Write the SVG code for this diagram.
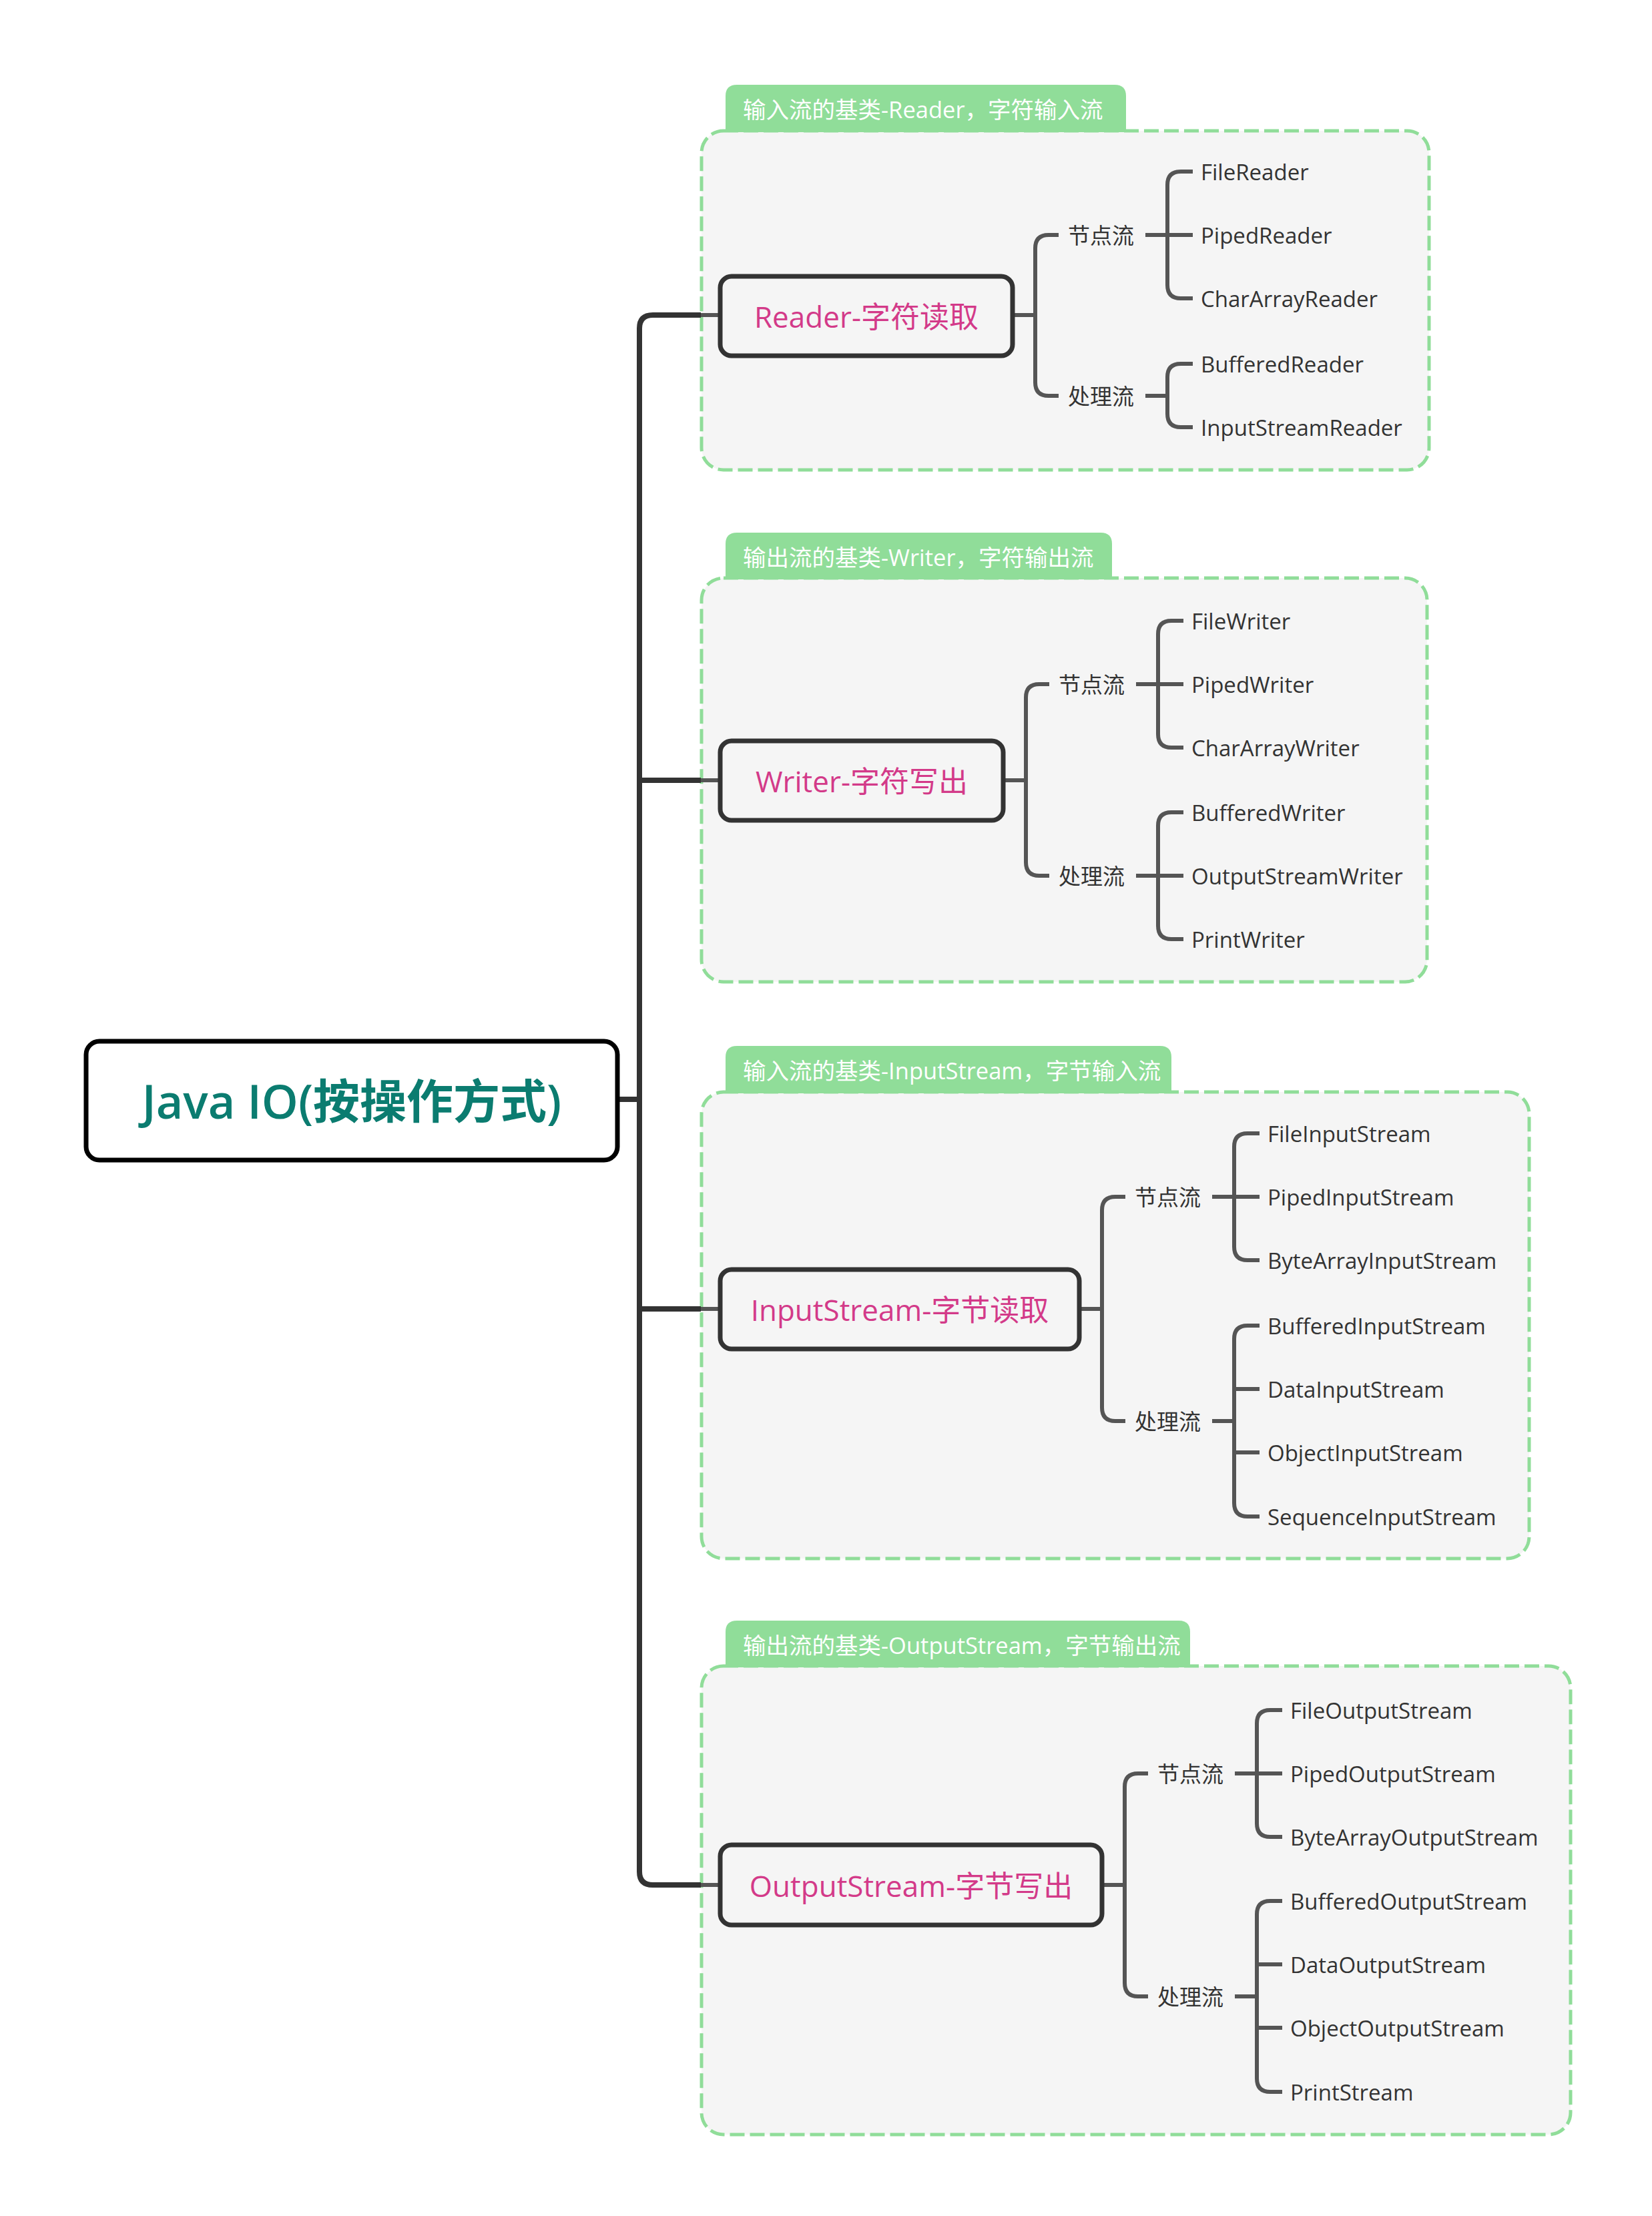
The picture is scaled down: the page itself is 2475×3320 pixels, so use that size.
<svg xmlns="http://www.w3.org/2000/svg" width="2475" height="3320" viewBox="0 0 2475 3320">
  <style>
    .group-box { fill: #F5F5F5; stroke: #90DD99; stroke-width: 5; stroke-dasharray: 22 8; }
    .tab { fill: #90DD99; }
    .tab-text { fill: #FFFFFF; font-family: "Open Sans", "Noto Sans CJK SC", sans-serif; font-size: 34.5px; dominant-baseline: central; }
    .root-box { fill: #FFFFFF; stroke: #000000; stroke-width: 7; }
    .root-text { fill: #0B7C70; font-family: "Open Sans", "Noto Sans CJK SC", sans-serif; font-size: 70px; font-weight: 600; dominant-baseline: central; text-anchor: middle; }
    .main-box { fill: #F5F5F5; stroke: #333333; stroke-width: 7; }
    .main-text { fill: #D33A89; font-family: "Open Sans", "Noto Sans CJK SC", sans-serif; font-size: 44px; dominant-baseline: central; text-anchor: middle; }
    .sub-text { fill: #333333; font-family: "Open Sans", "Noto Sans CJK SC", sans-serif; font-size: 33px; dominant-baseline: central; }
    .leaf-text { fill: #333333; font-family: "Open Sans", "Noto Sans CJK SC", sans-serif; font-size: 33px; dominant-baseline: central; }
    .trunk { fill: none; stroke: #333333; stroke-width: 8; stroke-linecap: butt; }
    .link { fill: none; stroke: #555555; stroke-width: 6; stroke-linecap: butt; }
  </style>
  <rect width="2475" height="3320" fill="#FFFFFF"/>

  <!-- group frames with their title tabs -->
  <g id="frame-reader">
    <rect class="group-box" x="1051" y="196" width="1090" height="508" rx="33"/>
    <path class="tab" d="M1087,198 V144 Q1087,127 1104,127 H1670 Q1687,127 1687,144 V198 Z"/>
    <text class="tab-text" x="1113" y="163">输入流的基类-Reader，字符输入流</text>
  </g>
  <g id="frame-writer">
    <rect class="group-box" x="1051" y="866" width="1087" height="605" rx="33"/>
    <path class="tab" d="M1087,868 V815 Q1087,798 1104,798 H1649 Q1666,798 1666,815 V868 Z"/>
    <text class="tab-text" x="1113" y="834">输出流的基类-Writer，字符输出流</text>
  </g>
  <g id="frame-inputstream">
    <rect class="group-box" x="1051" y="1636" width="1240" height="699" rx="33"/>
    <path class="tab" d="M1087,1638 V1584 Q1087,1567 1104,1567 H1738 Q1755,1567 1755,1584 V1638 Z"/>
    <text class="tab-text" x="1113" y="1603">输入流的基类-InputStream，字节输入流</text>
  </g>
  <g id="frame-outputstream">
    <rect class="group-box" x="1051" y="2496" width="1302" height="702" rx="33"/>
    <path class="tab" d="M1087,2498 V2445 Q1087,2428 1104,2428 H1766 Q1783,2428 1783,2445 V2498 Z"/>
    <text class="tab-text" x="1113" y="2464">输出流的基类-OutputStream，字节输出流</text>
  </g>

  <!-- connectors -->
  <g id="connectors">
    <!-- trunk from the root to the four main topics -->
    <path class="trunk" d="M925,1647 H958"/>
    <path class="trunk" d="M1050,472 H978 Q958,472 958,492 V2804 Q958,2824 978,2824 H1050"/>
    <path class="trunk" d="M958,1169 H1050"/>
    <path class="trunk" d="M958,1961 H1050"/>
    <path class="link" d="M1050,472 H1079 M1050,1169 H1079 M1050,1961 H1079 M1050,2824 H1079"/>

    <!-- Reader -->
    <path class="link" d="M1517,472 H1551"/>
    <path class="link" d="M1586,352 H1571 Q1551,352 1551,372 V573 Q1551,593 1571,593 H1586"/>
    <path class="link" d="M1716,352 H1787"/>
    <path class="link" d="M1787,257 H1769 Q1749,257 1749,277 V427 Q1749,447 1769,447 H1787"/>
    <path class="link" d="M1716,593 H1749"/>
    <path class="link" d="M1787,545 H1769 Q1749,545 1749,565 V620 Q1749,640 1769,640 H1787"/>

    <!-- Writer -->
    <path class="link" d="M1503,1169 H1537"/>
    <path class="link" d="M1572,1025 H1557 Q1537,1025 1537,1045 V1292 Q1537,1312 1557,1312 H1572"/>
    <path class="link" d="M1702,1025 H1773"/>
    <path class="link" d="M1773,930 H1755 Q1735,930 1735,950 V1100 Q1735,1120 1755,1120 H1773"/>
    <path class="link" d="M1702,1312 H1773"/>
    <path class="link" d="M1773,1217 H1755 Q1735,1217 1735,1237 V1387 Q1735,1407 1755,1407 H1773"/>

    <!-- InputStream -->
    <path class="link" d="M1617,1961 H1651"/>
    <path class="link" d="M1686,1793 H1671 Q1651,1793 1651,1813 V2109 Q1651,2129 1671,2129 H1686"/>
    <path class="link" d="M1816,1793 H1887"/>
    <path class="link" d="M1887,1698 H1869 Q1849,1698 1849,1718 V1868 Q1849,1888 1869,1888 H1887"/>
    <path class="link" d="M1816,2129 H1849"/>
    <path class="link" d="M1887,1986 H1869 Q1849,1986 1849,2006 V2252 Q1849,2272 1869,2272 H1887"/>
    <path class="link" d="M1849,2081 H1887 M1849,2176 H1887"/>

    <!-- OutputStream -->
    <path class="link" d="M1651,2824 H1685"/>
    <path class="link" d="M1720,2657 H1705 Q1685,2657 1685,2677 V2971 Q1685,2991 1705,2991 H1720"/>
    <path class="link" d="M1850,2657 H1921"/>
    <path class="link" d="M1921,2562 H1903 Q1883,2562 1883,2582 V2732 Q1883,2752 1903,2752 H1921"/>
    <path class="link" d="M1850,2991 H1883"/>
    <path class="link" d="M1921,2848 H1903 Q1883,2848 1883,2868 V3114 Q1883,3134 1903,3134 H1921"/>
    <path class="link" d="M1883,2943 H1921 M1883,3038 H1921"/>
  </g>

  <!-- root -->
  <g id="node-root">
    <rect class="root-box" x="129" y="1560" width="796" height="178" rx="20"/>
    <text class="root-text" x="527" y="1649">Java IO(按操作方式)</text>
  </g>

  <!-- main topics -->
  <g id="node-reader">
    <rect class="main-box" x="1079" y="414" width="438" height="119" rx="17"/>
    <text class="main-text" x="1298" y="474">Reader-字符读取</text>
  </g>
  <g id="node-writer">
    <rect class="main-box" x="1079" y="1110" width="424" height="119" rx="17"/>
    <text class="main-text" x="1291" y="1170">Writer-字符写出</text>
  </g>
  <g id="node-inputstream">
    <rect class="main-box" x="1079" y="1902" width="538" height="119" rx="17"/>
    <text class="main-text" x="1348" y="1962">InputStream-字节读取</text>
  </g>
  <g id="node-outputstream">
    <rect class="main-box" x="1079" y="2764" width="572" height="120" rx="17"/>
    <text class="main-text" x="1365" y="2825">OutputStream-字节写出</text>
  </g>

  <!-- Reader subtopics -->
  <g id="node-reader-node"><text class="sub-text" x="1600" y="352">节点流</text></g>
  <g id="node-reader-proc"><text class="sub-text" x="1600" y="593">处理流</text></g>
  <g id="node-filereader"><text class="leaf-text" x="1799" y="257">FileReader</text></g>
  <g id="node-pipedreader"><text class="leaf-text" x="1799" y="352">PipedReader</text></g>
  <g id="node-chararrayreader"><text class="leaf-text" x="1799" y="447">CharArrayReader</text></g>
  <g id="node-bufferedreader"><text class="leaf-text" x="1799" y="545">BufferedReader</text></g>
  <g id="node-inputstreamreader"><text class="leaf-text" x="1799" y="640">InputStreamReader</text></g>

  <!-- Writer subtopics -->
  <g id="node-writer-node"><text class="sub-text" x="1586" y="1025">节点流</text></g>
  <g id="node-writer-proc"><text class="sub-text" x="1586" y="1312">处理流</text></g>
  <g id="node-filewriter"><text class="leaf-text" x="1785" y="930">FileWriter</text></g>
  <g id="node-pipedwriter"><text class="leaf-text" x="1785" y="1025">PipedWriter</text></g>
  <g id="node-chararraywriter"><text class="leaf-text" x="1785" y="1120">CharArrayWriter</text></g>
  <g id="node-bufferedwriter"><text class="leaf-text" x="1785" y="1217">BufferedWriter</text></g>
  <g id="node-outputstreamwriter"><text class="leaf-text" x="1785" y="1312">OutputStreamWriter</text></g>
  <g id="node-printwriter"><text class="leaf-text" x="1785" y="1407">PrintWriter</text></g>

  <!-- InputStream subtopics -->
  <g id="node-input-node"><text class="sub-text" x="1700" y="1793">节点流</text></g>
  <g id="node-input-proc"><text class="sub-text" x="1700" y="2129">处理流</text></g>
  <g id="node-fileinputstream"><text class="leaf-text" x="1899" y="1698">FileInputStream</text></g>
  <g id="node-pipedinputstream"><text class="leaf-text" x="1899" y="1793">PipedInputStream</text></g>
  <g id="node-bytearrayinputstream"><text class="leaf-text" x="1899" y="1888">ByteArrayInputStream</text></g>
  <g id="node-bufferedinputstream"><text class="leaf-text" x="1899" y="1986">BufferedInputStream</text></g>
  <g id="node-datainputstream"><text class="leaf-text" x="1899" y="2081">DataInputStream</text></g>
  <g id="node-objectinputstream"><text class="leaf-text" x="1899" y="2176">ObjectInputStream</text></g>
  <g id="node-sequenceinputstream"><text class="leaf-text" x="1899" y="2272">SequenceInputStream</text></g>

  <!-- OutputStream subtopics -->
  <g id="node-output-node"><text class="sub-text" x="1734" y="2657">节点流</text></g>
  <g id="node-output-proc"><text class="sub-text" x="1734" y="2991">处理流</text></g>
  <g id="node-fileoutputstream"><text class="leaf-text" x="1933" y="2562">FileOutputStream</text></g>
  <g id="node-pipedoutputstream"><text class="leaf-text" x="1933" y="2657">PipedOutputStream</text></g>
  <g id="node-bytearrayoutputstream"><text class="leaf-text" x="1933" y="2752">ByteArrayOutputStream</text></g>
  <g id="node-bufferedoutputstream"><text class="leaf-text" x="1933" y="2848">BufferedOutputStream</text></g>
  <g id="node-dataoutputstream"><text class="leaf-text" x="1933" y="2943">DataOutputStream</text></g>
  <g id="node-objectoutputstream"><text class="leaf-text" x="1933" y="3038">ObjectOutputStream</text></g>
  <g id="node-printstream"><text class="leaf-text" x="1933" y="3134">PrintStream</text></g>
</svg>
